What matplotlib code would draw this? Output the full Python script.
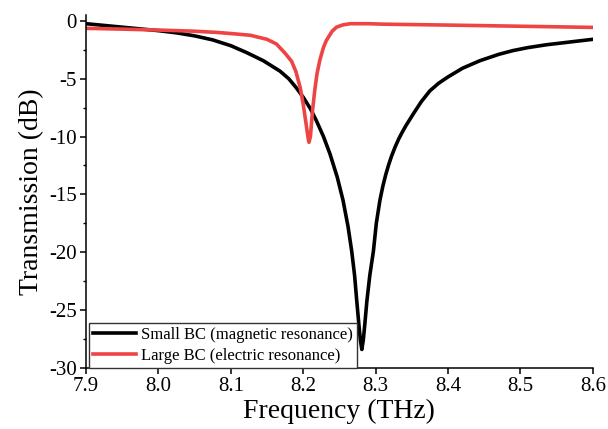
import matplotlib
matplotlib.use("Agg")
import matplotlib.pyplot as plt
from matplotlib.ticker import MultipleLocator

plt.rcParams['font.family'] = ['Liberation Serif', 'DejaVu Serif']
plt.rcParams['mathtext.fontset'] = 'stix'

# Small BC (magnetic resonance)
black_f = [7.90, 7.95, 8.00, 8.025, 8.05, 8.075, 8.10, 8.122, 8.145, 8.168, 8.18, 8.19,
           8.20, 8.21, 8.218, 8.228, 8.237, 8.247, 8.255, 8.262, 8.267, 8.271, 8.274,
           8.277, 8.279, 8.281, 8.283, 8.285, 8.288, 8.292, 8.297, 8.301, 8.306, 8.31,
           8.314, 8.318, 8.322, 8.327, 8.332, 8.337, 8.342, 8.352, 8.363, 8.375, 8.387,
           8.40, 8.42, 8.444, 8.47, 8.49, 8.51, 8.536, 8.57, 8.60]
black_db = [-0.25, -0.55, -0.85, -1.04, -1.3, -1.65, -2.15, -2.75, -3.45, -4.35, -5.0, -5.75,
            -6.6, -7.6, -8.6, -10.0, -11.5, -13.5, -15.5, -17.8, -19.9, -22.0, -24.2,
            -26.3, -27.6, -28.4, -27.6, -26.3, -24.2, -22.0, -19.9, -17.5, -15.5, -14.3,
            -13.3, -12.45, -11.7, -10.9, -10.2, -9.6, -9.05, -8.05, -7.0, -6.05, -5.4,
            -4.85, -4.1, -3.45, -2.9, -2.57, -2.32, -2.07, -1.82, -1.6]

# Large BC (electric resonance)
red_f = [7.90, 7.95, 8.00, 8.05, 8.08, 8.10, 8.127, 8.15, 8.163, 8.175, 8.184, 8.19,
         8.196, 8.20, 8.204, 8.207, 8.208, 8.210, 8.213, 8.216, 8.219, 8.223, 8.228,
         8.232, 8.24, 8.246, 8.255, 8.265, 8.29, 8.31, 8.40, 8.50, 8.60]
red_db = [-0.65, -0.72, -0.8, -0.9, -1.0, -1.1, -1.25, -1.6, -2.0, -2.8, -3.5, -4.4,
          -5.8, -7.2, -8.9, -10.2, -10.5, -10.0, -7.7, -6.0, -4.6, -3.4, -2.3,
          -1.7, -0.9, -0.55, -0.35, -0.25, -0.25, -0.29, -0.37, -0.47, -0.57]

labels = ['Small BC (magnetic resonance)', 'Large BC (electric resonance)']
x_ticks = [7.9, 8.0, 8.1, 8.2, 8.3, 8.4, 8.5, 8.6]
y_ticks = [-30, -25, -20, -15, -10, -5, 0]

fig = plt.figure(figsize=(6.08, 4.29), dpi=100)
ax = fig.add_axes([0.1414, 0.1422, 0.8336, 0.8228])

ax.plot(black_f, black_db, color='black', lw=2.6, label=labels[0], solid_joinstyle='round')
ax.plot(red_f, red_db, color='#EE4444', lw=2.6, label=labels[1], solid_joinstyle='round')

ax.set_xlim(7.9, 8.6)
ax.set_ylim(-30, 0.5)
ax.set_xticks(x_ticks)
ax.set_xticklabels([f'{v:.1f}' for v in x_ticks])
ax.set_yticks(y_ticks)
ax.set_yticklabels([str(v) for v in y_ticks])
ax.yaxis.set_minor_locator(MultipleLocator(2.5))

for s in ['top', 'right']:
    ax.spines[s].set_visible(False)
for s in ['left', 'bottom']:
    ax.spines[s].set_linewidth(1.1)

ax.tick_params(axis='both', which='major', direction='out', length=4.5, width=1.1,
               labelsize=15, pad=2)
ax.tick_params(axis='y', which='minor', direction='out', length=2.5, width=1.0)

ax.set_xlabel('Frequency (THz)', fontsize=20, labelpad=2)
ax.set_ylabel('Transmission (dB)', fontsize=20, labelpad=4)

leg = ax.legend(loc='lower left', bbox_to_anchor=(0.005, 0.0), borderaxespad=0,
                fontsize=12, frameon=True, fancybox=False, framealpha=1,
                edgecolor='#333333', handlelength=2.6, handletextpad=0.3,
                borderpad=0.25, labelspacing=0.3)
leg.get_frame().set_linewidth(1.0)

fig.savefig('out.png', dpi=100)
